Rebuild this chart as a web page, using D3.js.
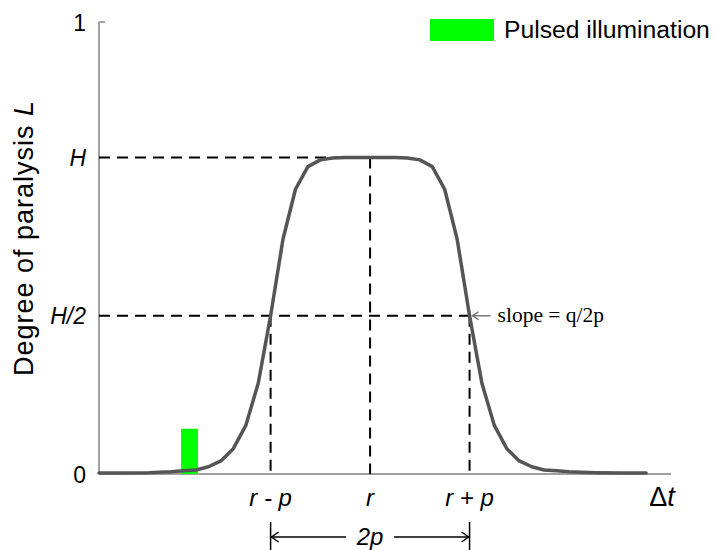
<!DOCTYPE html>
<html>
<head>
<meta charset="utf-8">
<script src="https://cdn.jsdelivr.net/npm/d3@7/dist/d3.min.js"></script>
<style>
  html, body { margin: 0; padding: 0; background: #fff; }
  svg { display: block; }
</style>
</head>
<body>
<svg id="chart" width="714" height="550"></svg>
<script>
// Response curve: degree of paralysis L against the delay Δt
const curveT = [0, 1, 2, 2.4, 2.9, 3.4, 3.9, 4.4, 4.9, 5.4, 5.9, 6.4, 6.9, 7.4, 7.9, 8.4, 8.9, 9.4, 9.9, 10.4, 10.9,
                11.4, 11.9, 12.4, 12.9, 13.4, 13.9, 14.4, 14.9, 15.4, 15.9, 16.4, 16.9, 17.4, 17.9, 18.4, 18.9, 19.4, 20, 21, 22];
const curveL = [0.002, 0.002, 0.003, 0.004, 0.005, 0.007, 0.009, 0.016, 0.029, 0.056, 0.107, 0.2, 0.35, 0.52, 0.63, 0.68, 0.695, 0.699, 0.7, 0.7, 0.7,
                0.7, 0.7, 0.699, 0.695, 0.68, 0.63, 0.52, 0.35, 0.2, 0.107, 0.056, 0.029, 0.016, 0.009, 0.007, 0.005, 0.004, 0.003, 0.002, 0.002];

// Model parameters
const H = 0.7;      // plateau height
const r = 10.9;     // centre of the response window
const p = 4;        // half-width of the window

// Light pulse
const pulseStart = 3.3;
const pulseWidth = 0.68;
const pulseHeight = 0.1;

// Axis tick labels
const yTickValues = [0, H / 2, H, 1];
const yTickLabels = ["0", "H/2", "H", "1"];
const xTickValues = [r - p, r, r + p];
const xTickLabels = ["r - p", "r", "r + p"];

const SANS = "'Liberation Sans', Arial, Helvetica, sans-serif";
const SERIF = "'Liberation Serif', 'Times New Roman', serif";

const svg = d3.select("#chart").style("font-family", SANS);
const x = d3.scaleLinear().domain([0, 23]).range([99, 671]);
const y = d3.scaleLinear().domain([0, 1]).range([474, 22]);

const axisColor = "#a0a0a0";

// Axes
svg.append("line").attr("x1", x(0)).attr("x2", x(0)).attr("y1", y(1)).attr("y2", y(0))
  .attr("stroke", axisColor).attr("stroke-width", 2);
svg.append("line").attr("x1", x(0)).attr("x2", x(0) + 6).attr("y1", y(1)).attr("y2", y(1))
  .attr("stroke", axisColor).attr("stroke-width", 2);
svg.append("line").attr("x1", x(0)).attr("x2", x(23)).attr("y1", y(0)).attr("y2", y(0))
  .attr("stroke", axisColor).attr("stroke-width", 2);

// Dashed guides
const dash = "11,7";
const guides = svg.append("g").attr("stroke", "#000").attr("stroke-width", 2).attr("stroke-dasharray", dash).attr("fill", "none");
guides.append("line").attr("x1", x(0)).attr("x2", x(r)).attr("y1", y(H)).attr("y2", y(H));
guides.append("line").attr("x1", x(r)).attr("x2", x(r)).attr("y1", y(H)).attr("y2", y(0));
guides.append("line").attr("x1", x(0)).attr("x2", x(r + p)).attr("y1", y(H / 2)).attr("y2", y(H / 2));
guides.append("line").attr("x1", x(r - p)).attr("x2", x(r - p)).attr("y1", y(H / 2)).attr("y2", y(0));
guides.append("line").attr("x1", x(r + p)).attr("x2", x(r + p)).attr("y1", y(H / 2)).attr("y2", y(0));

// Pulse bar
svg.append("rect")
  .attr("x", x(pulseStart)).attr("width", x(pulseStart + pulseWidth) - x(pulseStart))
  .attr("y", y(pulseHeight)).attr("height", y(0) - y(pulseHeight))
  .attr("fill", "#00ff00");

// Curve
const line = d3.line().x((d, i) => x(curveT[i])).y(d => y(d));
svg.append("path").datum(curveL).attr("d", line)
  .attr("fill", "none").attr("stroke", "#555").attr("stroke-width", 3.5)
  .attr("stroke-linejoin", "round").attr("stroke-linecap", "round");

// Y tick labels
svg.append("g").selectAll("text").data(yTickValues).join("text")
  .attr("x", 86).attr("y", d => y(d) + 8.5)
  .attr("text-anchor", "end").attr("font-size", 23)
  .attr("font-style", (d, i) => i === 0 || i === 3 ? "normal" : "italic")
  .text((d, i) => yTickLabels[i]);

// X tick labels
svg.append("g").selectAll("text").data(xTickValues).join("text")
  .attr("x", d => x(d)).attr("y", 506)
  .attr("text-anchor", "middle").attr("font-size", 24).attr("font-style", "italic")
  .attr("xml:space", "preserve")
  .text((d, i) => xTickLabels[i]);

// Δt axis title
const dt = svg.append("text").attr("x", 662).attr("y", 506).attr("text-anchor", "middle").attr("font-size", 27);
dt.append("tspan").text("Δ");
dt.append("tspan").attr("font-style", "italic").text("t");

// Y axis title
svg.append("text")
  .attr("transform", "translate(33,238) rotate(-90)")
  .attr("text-anchor", "middle").attr("font-size", 27).attr("letter-spacing", 1)
  .call(t => {
    t.append("tspan").text("Degree of paralysis ");
    t.append("tspan").attr("font-style", "italic").text("L");
  });

// 2p width marker
const arrowY = 537;
const mk = svg.append("g").attr("stroke", "#000").attr("stroke-width", 1.5).attr("fill", "none");
mk.append("line").attr("x1", x(r - p)).attr("x2", x(r - p)).attr("y1", 522).attr("y2", 550);
mk.append("line").attr("x1", x(r + p)).attr("x2", x(r + p)).attr("y1", 522).attr("y2", 550);
mk.append("line").attr("x1", x(r - p)).attr("x2", x(r) - 24).attr("y1", arrowY).attr("y2", arrowY);
mk.append("line").attr("x1", x(r) + 24).attr("x2", x(r + p)).attr("y1", arrowY).attr("y2", arrowY);
mk.append("path").attr("d", `M${x(r - p) + 8},${arrowY - 5}L${x(r - p) + 1},${arrowY}L${x(r - p) + 8},${arrowY + 5}`);
mk.append("path").attr("d", `M${x(r + p) - 8},${arrowY - 5}L${x(r + p) - 1},${arrowY}L${x(r + p) - 8},${arrowY + 5}`);
svg.append("text").attr("x", x(r)).attr("y", 545).attr("text-anchor", "middle")
  .attr("font-size", 24).attr("font-style", "italic").text("2p");

// Slope annotation
const sx = x(r + p) + 3, sy = y(H / 2);
const sl = svg.append("g").attr("stroke", "#666").attr("stroke-width", 1.3).attr("fill", "none");
sl.append("line").attr("x1", sx).attr("x2", sx + 18).attr("y1", sy).attr("y2", sy);
sl.append("path").attr("d", `M${sx + 6},${sy - 4}L${sx},${sy}L${sx + 6},${sy + 4}`);
svg.append("text").attr("x", sx + 25).attr("y", sy + 6)
  .style("font-family", SERIF).attr("font-size", 21.5)
  .text("slope = q/2p");

// Legend
svg.append("rect").attr("x", 430).attr("y", 19).attr("width", 64).attr("height", 22).attr("fill", "#00ff00");
svg.append("text").attr("x", 504).attr("y", 38).attr("font-size", 24.7).text("Pulsed illumination");
</script>
</body>
</html>
